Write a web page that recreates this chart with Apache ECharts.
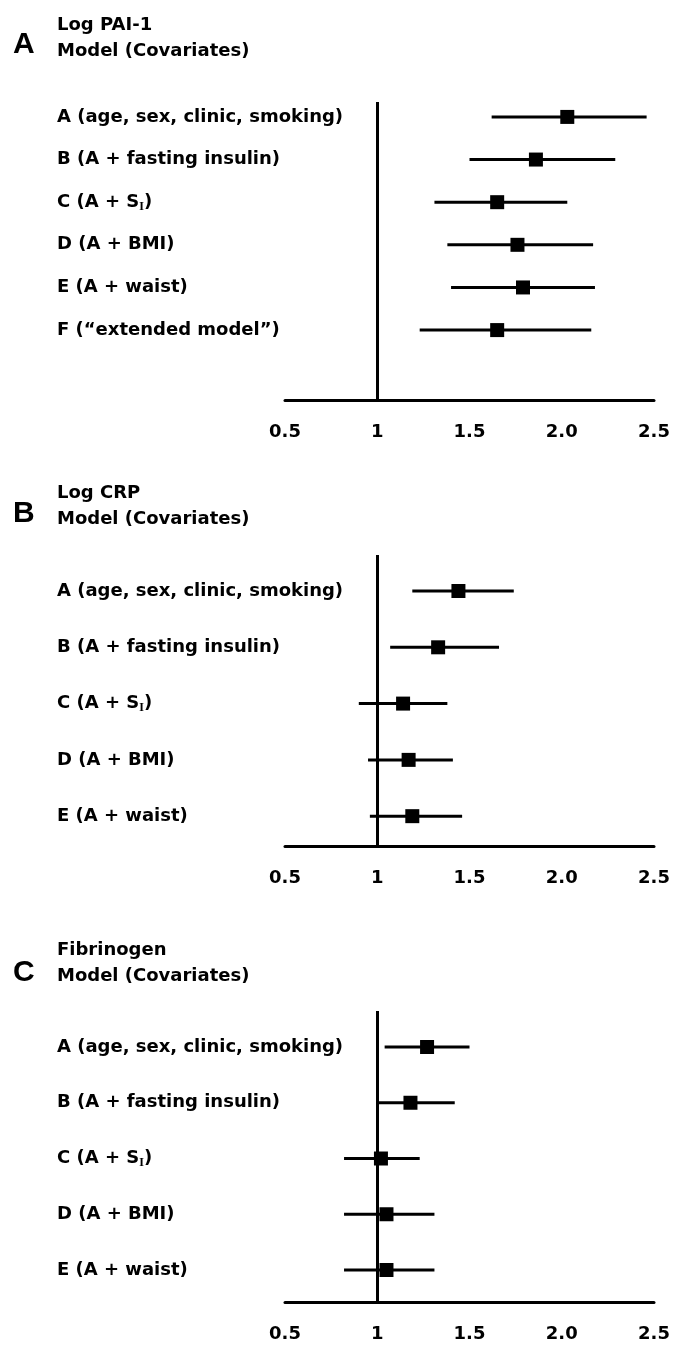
<!DOCTYPE html>
<html>
<head>
<meta charset="utf-8">
<script src="https://cdn.jsdelivr.net/npm/echarts@6/dist/echarts.min.js"></script>
<style>
html,body{margin:0;padding:0;background:#fff;}
#chart{width:674px;height:1349px;}
</style>
</head>
<body>
<div id="chart"></div>
<script>
// ---- data ----
const tickValues = [0.5, 1, 1.5, 2.0, 2.5];
const tickLabels = ['0.5', '1', '1.5', '2.0', '2.5'];

const panelLetters = ['A', 'B', 'C'];
const panelTitles = ['Log PAI-1', 'Log CRP', 'Fibrinogen'];
const panelSubtitle = 'Model (Covariates)';

const labelsA = ['A (age, sex, clinic, smoking)', 'B (A + fasting insulin)', 'C (A + S{sub|I})', 'D (A + BMI)', 'E (A + waist)', 'F (\u201Cextended model\u201D)'];
const lowA = [1.62, 1.50, 1.31, 1.38, 1.40, 1.23];
const estA = [2.03, 1.86, 1.65, 1.76, 1.79, 1.65];
const highA = [2.46, 2.29, 2.03, 2.17, 2.18, 2.16];

const labelsB = ['A (age, sex, clinic, smoking)', 'B (A + fasting insulin)', 'C (A + S{sub|I})', 'D (A + BMI)', 'E (A + waist)'];
const lowB = [1.19, 1.07, 0.90, 0.95, 0.96];
const estB = [1.44, 1.33, 1.14, 1.17, 1.19];
const highB = [1.74, 1.66, 1.38, 1.41, 1.46];

const labelsC = ['A (age, sex, clinic, smoking)', 'B (A + fasting insulin)', 'C (A + S{sub|I})', 'D (A + BMI)', 'E (A + waist)'];
const lowC = [1.04, 1.00, 0.82, 0.82, 0.82];
const estC = [1.27, 1.18, 1.02, 1.05, 1.05];
const highC = [1.50, 1.42, 1.23, 1.31, 1.31];

// ---- layout ----
const FONT = 'DejaVu Sans';
const panels = [
  {labels: labelsA, low: lowA, est: estA, high: highA, top: 102, height: 298, ymin: -0.35, ymax: 6.64, titleTop: 12, letterTop: 30},
  {labels: labelsB, low: lowB, est: estB, high: highB, top: 555, height: 291, ymin: -0.64, ymax: 4.53, titleTop: 480, letterTop: 499},
  {labels: labelsC, low: lowC, est: estC, high: highC, top: 1011, height: 291, ymin: -0.646, ymax: 4.574, titleTop: 937, letterTop: 958}
];

function renderItem(params, api) {
  const y = api.value(0);
  const pLo = api.coord([api.value(1), y]);
  const pPt = api.coord([api.value(2), y]);
  const pHi = api.coord([api.value(3), y]);
  return {
    type: 'group',
    children: [
      {type: 'line', shape: {x1: pLo[0], y1: pLo[1], x2: pHi[0], y2: pHi[1]}, style: {stroke: '#000', lineWidth: 3}},
      {type: 'rect', shape: {x: pPt[0] - 7, y: pPt[1] - 7, width: 14, height: 14}, style: {fill: '#000'}}
    ]
  };
}

const grid = [], xAxis = [], yAxis = [], series = [], title = [];
panels.forEach((p, k) => {
  grid.push({left: 285, right: 20, top: p.top, height: p.height, containLabel: false});
  xAxis.push({
    type: 'value', gridIndex: k, min: 0.5, max: 2.5, interval: 0.5,
    axisLine: {show: true, onZero: false, lineStyle: {color: '#000', width: 3}},
    axisTick: {show: false}, splitLine: {show: false},
    axisLabel: {
      margin: 23, color: '#000', fontSize: 18, fontWeight: 'bold', fontFamily: FONT,
      formatter: v => { const i = tickValues.findIndex(t => Math.abs(t - v) < 1e-6); return i >= 0 ? tickLabels[i] : ''; }
    }
  });
  yAxis.push({
    type: 'value', gridIndex: k, inverse: true, min: p.ymin, max: p.ymax,
    axisLine: {show: false, onZero: false}, axisTick: {show: false}, splitLine: {show: false},
    axisLabel: {
      customValues: p.labels.map((_, i) => i),
      formatter: v => p.labels[Math.round(v)] || '',
      align: 'left', margin: 228, color: '#000', fontSize: 18, fontWeight: 'bold', fontFamily: FONT,
      rich: {sub: {fontSize: 12, fontWeight: 'bold', fontFamily: 'Liberation Serif', color: '#000', padding: [9, 0, 0, 0]}}
    }
  });
  series.push({
    type: 'custom', xAxisIndex: k, yAxisIndex: k, renderItem: renderItem,
    encode: {x: [1, 2, 3], y: 0},
    data: p.labels.map((_, i) => [i, p.low[i], p.est[i], p.high[i]]),
    markLine: {
      silent: true, symbol: 'none', animation: false,
      label: {show: false},
      lineStyle: {color: '#000', width: 3, type: 'solid'},
      data: [{xAxis: 1}]
    },
    animation: false
  });
  title.push({
    text: panelLetters[k], left: 13, top: p.letterTop, padding: 0,
    textStyle: {fontSize: 30, fontWeight: 'bold', fontFamily: 'Liberation Sans', color: '#000', lineHeight: 30}
  });
  title.push({
    text: panelTitles[k] + '\n' + panelSubtitle, left: 57, top: p.titleTop, padding: 0,
    textStyle: {fontSize: 18, fontWeight: 'bold', fontFamily: FONT, color: '#000', lineHeight: 26}
  });
});

const chart = echarts.init(document.getElementById('chart'), null, {renderer: 'canvas'});
chart.setOption({
  backgroundColor: '#fff',
  animation: false,
  title: title,
  grid: grid,
  xAxis: xAxis,
  yAxis: yAxis,
  series: series
});
</script>
</body>
</html>
